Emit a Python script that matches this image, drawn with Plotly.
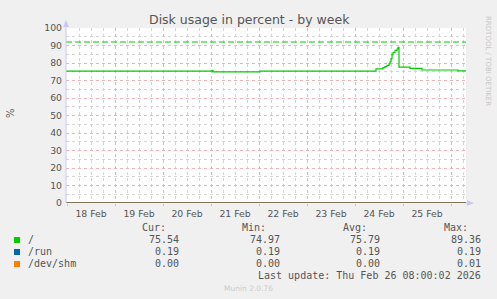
import plotly.graph_objects as go

# ---------------- data ----------------
X_START = "2026-02-17 23:30"
X_END = "2026-02-26 07:30"

root_times = [
    "2026-02-17 23:30", "2026-02-21 00:30", "2026-02-21 01:00", "2026-02-22 00:30",
    "2026-02-24 10:30", "2026-02-24 14:00", "2026-02-24 15:00", "2026-02-24 16:00",
    "2026-02-24 17:00", "2026-02-24 17:30", "2026-02-24 18:00", "2026-02-24 18:30",
    "2026-02-24 19:00", "2026-02-24 20:00", "2026-02-24 21:00", "2026-02-24 21:30",
    "2026-02-24 22:00", "2026-02-25 03:30", "2026-02-25 09:30", "2026-02-26 03:30",
    "2026-02-26 07:30",
]
root_values = [
    75.40, 75.80, 74.97, 75.40,
    76.60, 77.30, 77.90, 78.60,
    79.50, 80.60, 82.50, 84.80,
    86.00, 87.20, 88.00, 89.00,
    77.70, 76.90, 76.00, 75.54,
    75.54,
]
run_times = [X_START, X_END]
run_values = [0.19, 0.19]
shm_times = [X_START, X_END]
shm_values = [0.00, 0.00]
warn_times = [X_START, X_END]
warn_values = [92, 92]

series_names = ["/", "/run", "/dev/shm"]
series_colors = ["#00CC00", "#0066B3", "#FF8000"]
cur_vals = ["75.54", "0.19", "0.00"]
min_vals = ["74.97", "0.19", "0.00"]
avg_vals = ["75.79", "0.19", "0.00"]
max_vals = ["89.36", "0.19", "0.01"]

y_ticks = [0, 10, 20, 30, 40, 50, 60, 70, 80, 90, 100]
title_text = "Disk usage in percent - by week"
last_update = "Last update: Thu Feb 26 08:00:02 2026"

# ---------------- layout helpers ----------------
W, H = 497, 299
L, R, T, B = 66, 466, 28, 203


def px(x):
    return (x - L) / (R - L)


def py(y):
    return (B - y) / (B - T)


TXT = "#555555"
MONO = "DejaVu Sans Mono"
SANS = "DejaVu Sans"

fig = go.Figure()
fig.add_trace(go.Scatter(x=warn_times, y=warn_values, mode="lines",
                         line=dict(color=series_colors[0], width=1.2, dash="6px,3px"),
                         hoverinfo="skip"))
fig.add_trace(go.Scatter(x=run_times, y=run_values, mode="lines",
                         line=dict(color=series_colors[1], width=1.2), hoverinfo="skip"))
fig.add_trace(go.Scatter(x=shm_times, y=shm_values, mode="lines",
                         line=dict(color=series_colors[2], width=1.2), hoverinfo="skip"))
fig.add_trace(go.Scatter(x=root_times, y=root_values, mode="lines",
                         line=dict(color=series_colors[0], width=1.2, shape="hv"),
                         hoverinfo="skip"))

MAJ = "#eab4b4"
MIN = "#d4d4d4"

fig.update_layout(
    width=W, height=H,
    margin=dict(l=L, r=W - R, t=T, b=H - B),
    paper_bgcolor="#f0f0f0",
    plot_bgcolor="#ffffff",
    showlegend=False,
    font=dict(family=SANS, size=9.3, color=TXT),
    xaxis=dict(
        type="date",
        range=[X_START, X_END],
        tick0="2026-02-18 00:00",
        dtick=86400000,
        tickformat="%d %b",
        ticklabelmode="period",
        showgrid=True, gridcolor=MAJ, griddash="dot", gridwidth=1,
        minor=dict(dtick=6 * 3600 * 1000, showgrid=True, gridcolor=MIN,
                   griddash="dot", gridwidth=1),
        ticks="outside", ticklen=2, tickcolor=MAJ,
        zeroline=False, showline=False,
        tickfont=dict(family=SANS, size=9.3, color=TXT),
        fixedrange=True,
    ),
    yaxis=dict(
        range=[0, 100],
        tickvals=y_ticks,
        showgrid=True, gridcolor=MAJ, griddash="dot", gridwidth=1,
        minor=dict(dtick=5, showgrid=True, gridcolor=MIN, griddash="dot", gridwidth=1),
        ticks="", zeroline=False, showline=False,
        ticklabelstandoff=3,
        tickfont=dict(family=SANS, size=9.3, color=TXT),
        fixedrange=True,
    ),
)

AX = "#c8c8f4"
shapes = [
    # y axis line
    dict(type="line", xref="paper", yref="paper", x0=0, x1=0, y0=0, y1=py(25),
         line=dict(color=AX, width=1), layer="above"),
    # x axis extension beyond plot
    dict(type="line", xref="paper", yref="paper", x0=1, x1=px(470), y0=0, y1=0,
         line=dict(color=AX, width=1), layer="above"),
    # y arrow
    dict(type="path", xref="paper", yref="paper",
         path=f"M {px(63)} {py(27)} L {px(69)} {py(27)} L {px(66)} {py(20)} Z",
         fillcolor=AX, line=dict(width=0), layer="above"),
    # x arrow
    dict(type="path", xref="paper", yref="paper",
         path=f"M {px(467)} {py(200)} L {px(467)} {py(206)} L {px(474)} {py(203)} Z",
         fillcolor=AX, line=dict(width=0), layer="above"),
]

rows_y = [239, 251, 263]
for i, c in enumerate(series_colors):
    shapes.append(dict(type="rect", xref="paper", yref="paper",
                       x0=px(14), x1=px(20), y0=py(rows_y[i] - 2), y1=py(rows_y[i] + 4),
                       fillcolor=c, line=dict(width=0)))
fig.update_layout(shapes=shapes)

ann = []


def text(x, y, s, anchor="left", size=10, family=MONO, color=TXT, angle=0):
    ann.append(dict(x=px(x), y=py(y), xref="paper", yref="paper", text=s,
                    showarrow=False, xanchor=anchor, yanchor="middle",
                    font=dict(family=family, size=size, color=color),
                    textangle=angle))


text(249, 19, title_text, anchor="center", size=12.5, family=SANS, color=TXT)
text(10, 113, "%", anchor="center", size=10, family=SANS, color=TXT, angle=-90)
text(488, 61, "RRDTOOL / TOBI OETIKER", anchor="center", size=7, family=SANS,
     color="#c8c8c8", angle=90)
text(248, 288, "Munin 2.0.76", anchor="center", size=7.5, family=SANS, color="#cccccc")

# legend table headers
text(168, 227, "Cur:", anchor="right")
text(268, 227, "Min:", anchor="right")
text(369, 227, "Avg:", anchor="right")
text(470, 227, "Max:", anchor="right")
for i, name in enumerate(series_names):
    y = rows_y[i]
    text(26, y, name)
    text(180.5, y, cur_vals[i], anchor="right")
    text(281.5, y, min_vals[i], anchor="right")
    text(382, y, avg_vals[i], anchor="right")
    text(482.5, y, max_vals[i], anchor="right")
text(482.5, 275, last_update, anchor="right")

fig.update_layout(annotations=ann)
fig.write_html("out.html")
